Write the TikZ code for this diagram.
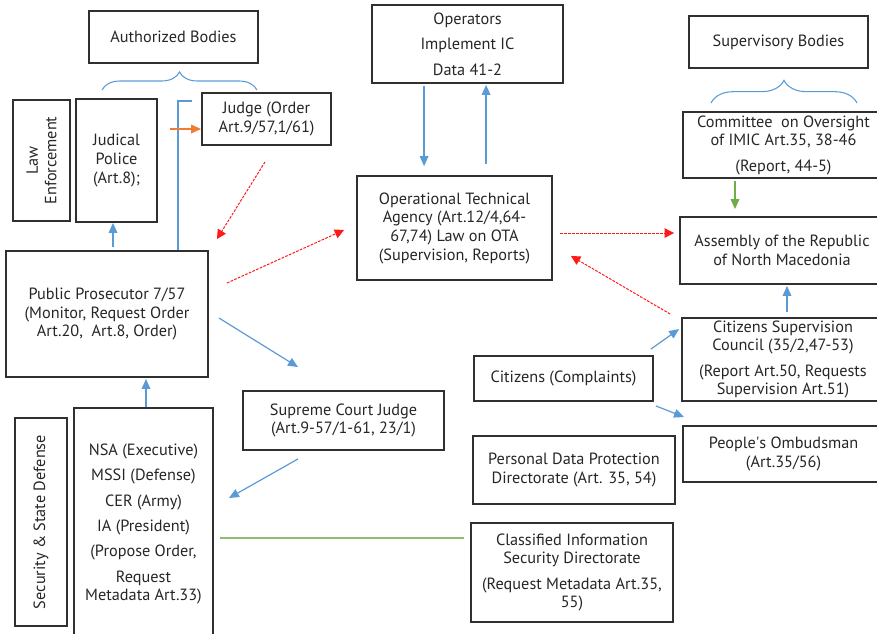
\documentclass[tikz,border=0pt]{standalone}
\usepackage{fontspec}
\setmainfont{PT Sans}
\usetikzlibrary{arrows.meta,calc,decorations.pathreplacing}

\definecolor{boxgray}{HTML}{303030}
\definecolor{txtgray}{HTML}{262626}
\definecolor{lineblue}{HTML}{5B9BD5}
\definecolor{lineorange}{HTML}{ED7D31}
\definecolor{linegreen}{HTML}{70AD47}
\definecolor{linered}{HTML}{FF1A1A}

\tikzset{
    box/.style={draw=boxgray, line width=1.4pt, align=center, inner sep=2pt,
        text=txtgray, font=\fontsize{12.2}{14}\selectfont},
    blue arrow/.style={draw=lineblue, line width=0.9pt, -{Triangle[length=7.5pt,width=6.5pt]}, lineblue},
    blue line/.style={draw=lineblue, line width=0.9pt},
    orange arrow/.style={draw=lineorange, line width=0.9pt, -{Triangle[length=7.5pt,width=6.5pt]}, lineorange},
    green arrow/.style={draw=linegreen, line width=0.9pt, -{Triangle[length=7.5pt,width=6.5pt]}, linegreen},
    green line/.style={draw=linegreen!80, line width=0.9pt},
    red arrow/.style={draw=linered, line width=0.75pt, dash pattern=on 2pt off 1pt,
        -{Triangle[length=7pt,width=7pt]}, linered},
    blue brace/.style={draw=lineblue, line width=0.8pt,
        decorate, decoration={brace, amplitude=#1}},
}

\begin{document}
\begin{tikzpicture}[x=0.75pt, y=-0.75pt]
        \useasboundingbox (0,0) rectangle (877,633);

        % authorized bodies
        \node[box, minimum width=126.75pt, minimum height=39pt] (auth) at (173.5,37) {Authorized Bodies};
        \draw[blue brace=13.5pt] (102,90) -- (257,90);
        \node[box, rotate=90, minimum width=90.75pt, minimum height=42.75pt] (law) at (41.5,160.5) {Law\\Enforcement};
        \node[box, minimum width=60.75pt, minimum height=92.25pt] (jp) at (116.5,160.5) {Judical\\Police\\(Art.8);};
        \node[box, minimum width=96.75pt, minimum height=39pt] (judge) at (266.5,119) {Judge (Order\\Art.9/57,1/61)};
        \node[box, minimum width=151.5pt, minimum height=94.5pt] (pp) at (107,314) {Public Prosecutor 7/57\\(Monitor, Request Order\\Art.20,\ \ Art.8, Order)};
        \node[box, minimum width=150.75pt, minimum height=44.25pt] (scj) at (343.5,420.5) {Supreme Court Judge\\(Art.9-57/1-61, 23/1)};
        \node[box, rotate=90, minimum width=156pt, minimum height=39pt] (ssd) at (41,522) {Security \& State Defense};
        \node[box, minimum width=104.25pt, minimum height=174pt] (nsa) at (143.5,524) {NSA (Executive)\\[5pt]MSSI (Defense)\\[5pt]CER (Army)\\[5pt]IA (President)\\[5pt](Propose Order,\\[5pt]Request\\Metadata Art.33)};

        % operators and agency
        \node[box, minimum width=143.25pt, minimum height=58.5pt] (ops) at (467.5,44) {Operators\\[5pt]Implement IC\\[5pt]Data 41-2};
        \node[box, minimum width=146.25pt, minimum height=78pt] (ota) at (454.5,228) {Operational Technical\\Agency (Art.12/4,64-\\67,74) Law on OTA\\(Supervision, Reports)};
        \node[box, minimum width=134.25pt, minimum height=33.75pt] (cit) at (563.5,378.5) {Citizens (Complaints)};
        \node[box, minimum width=151.5pt, minimum height=51pt] (pdp) at (574,470) {Personal Data Protection\\Directorate (Art. 35, 54)};
        \node[box, minimum width=151.5pt, minimum height=74.25pt] (cis) at (572,572.5) {Classified Information\\Security Directorate\\[5pt](Request Metadata Art.35,\\55)};

        % supervisory bodies
        \node[box, minimum width=134.25pt, minimum height=39pt] (sup) at (778.5,42) {Supervisory Bodies};
        \draw[blue brace=17pt] (711,103) -- (857,103);
        \node[box, minimum width=150.75pt, minimum height=49.5pt] (com) at (783.5,145) {Committee\ \ on Oversight\\of IMIC Art.35, 38-46\\[5pt](Report, 44-5)};
        \node[box, minimum width=153pt, minimum height=50.25pt] (asm) at (782,250.5) {Assembly of the Republic\\of North Macedonia};
        \node[box, minimum width=151.5pt, minimum height=62.25pt] (csc) at (783,359.5) {Citizens Supervision\\Council (35/2,47-53)\\[5pt](Report Art.50, Requests\\Supervision Art.51)};
        \node[box, minimum width=150.75pt, minimum height=42pt] (po) at (783.5,454) {People\textquotesingle s Ombudsman\\(Art.35/56)};

        % left connectors
        \draw[blue arrow] ($(pp.north)+(6,-3)$) -- ($(jp.south)+(-3.5,0)$);
        \draw[blue line] ($(pp.north west)+(173,0)$) |- ($(judge.north west)+(-9,9)$);
        \draw[orange arrow] ($(judge.west)+(-31,10)$) -- ($(judge.west)+(0,10)$);
        \draw[red arrow] ($(judge.south)+(-1.5,16)$) -- ($(pp.north east)+(8,-11)$);
        \draw[red arrow] ($(pp.east)+(18,-31)$) -- ($(ota.west)+(-12,2)$);
        \draw[blue arrow] ($(pp.east)+(10,4)$) -- ($(scj.north)+(-45.5,-23)$);
        \draw[blue arrow] ($(scj.south)+(-45.5,8)$) -- ($(nsa.east)+(15,-26)$);
        \draw[blue arrow] ($(nsa.north)+(2.5,0)$) -- ($(pp.south)+(39,1)$);
        \draw[green line] ($(nsa.east)+(6,14)$) -- ($(cis.west)+(-6,-34.5)$);

        % middle connectors
        \draw[blue arrow] ($(ops.south west)+(53,2)$) -- ($(ota.north west)+(68,-9)$);
        \draw[blue arrow] ($(ota.north west)+(130,-11)$) -- ($(ops.south west)+(115,1)$);
        \draw[blue line] ($(ota.south)+(13.5,0)$) -- ($(ota.south)+(13.5,0)$ |- cis.north);
        \draw[red arrow] ($(ota.east)+(7,5)$) -- ($(asm.west)+(-5,-17.5)$);
        \draw[red arrow] ($(csc.north west)+(-11,-3)$) -- ($(ota.south east)+(18,-25)$);

        % right connectors
        \draw[green arrow] ($(com.south)+(-48.5,2)$) -- ($(asm.north)+(-47,-7)$);
        \draw[blue arrow] ($(csc.north)+(4,-5)$) -- ($(asm.south)+(5,1)$);
        \draw[blue arrow] ($(cit.north east)+(-3,-6)$) -- ($(csc.west)+(-2,-30.5)$);
        \draw[blue arrow] ($(cit.south east)+(2,4)$) -- ($(po.north west)+(2,-8)$);
    \end{tikzpicture}
\end{document}
